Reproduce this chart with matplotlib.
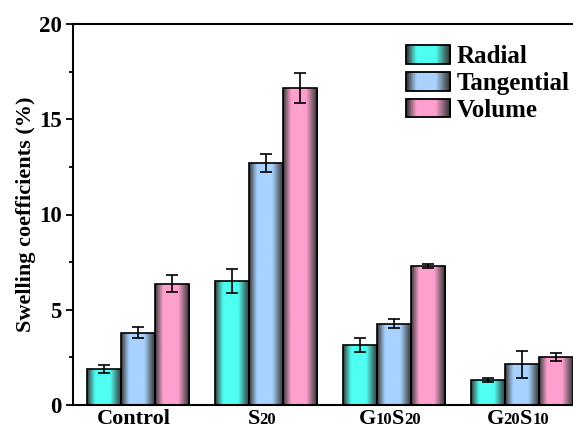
import numpy as np
import matplotlib
matplotlib.use("Agg")
import matplotlib.pyplot as plt
from matplotlib.patches import Rectangle
from matplotlib.legend_handler import HandlerBase
from matplotlib.offsetbox import TextArea, HPacker, AnnotationBbox
from matplotlib.ticker import MultipleLocator

# ---- data ----
groups = ["Control", "S20", "G10S20", "G20S10"]
group_parts = [[("Control", "big")],
               [("S", "big"), ("20", "small")],
               [("G", "big"), ("10", "small"), ("S", "big"), ("20", "small")],
               [("G", "big"), ("20", "small"), ("S", "big"), ("10", "small")]]
series = ["Radial", "Tangential", "Volume"]
radial = [1.90, 6.50, 3.15, 1.30]
tangential = [3.80, 12.72, 4.27, 2.14]
volume = [6.37, 16.63, 7.31, 2.52]
radial_err = [0.20, 0.64, 0.36, 0.10]
tangential_err = [0.30, 0.47, 0.24, 0.72]
volume_err = [0.46, 0.80, 0.10, 0.22]
colors = ["#4EFFF2", "#A8D2FF", "#FFA0CF"]
yticks = [0, 5, 10, 15, 20]

plt.rcParams["font.family"] = ["Liberation Serif", "DejaVu Serif"]
plt.rcParams["font.weight"] = "bold"

fig = plt.figure(figsize=(5.73, 4.32), dpi=100)
ax = fig.add_axes([73 / 573, 1 - 405 / 432, (587 - 73) / 573, (405 - 24) / 432])

dark = np.array([0.22, 0.22, 0.22])
N = 64
u = np.linspace(0, 1, N)
# brightness profile: dark edges, bright centre plateau
prof = np.clip(np.sin(np.pi * u ** 0.85) * 1.25, 0, 1) ** 1.3


def grad_img(color):
    c = np.array(matplotlib.colors.to_rgb(color))
    return (dark[None, :] * (1 - prof[:, None]) + c[None, :] * prof[:, None])[None, :, :]


x = np.arange(len(groups))
w = 0.266
vals = [radial, tangential, volume]
errs = [radial_err, tangential_err, volume_err]
for i, (v, e, col) in enumerate(zip(vals, errs, colors)):
    pos = x + (i - 1) * w
    bars = ax.bar(pos, v, width=w, color="none", edgecolor="black", linewidth=1.2, zorder=3)
    img = grad_img(col)
    for b in bars:
        x0, y0 = b.get_x(), b.get_y()
        im = ax.imshow(img, extent=[x0, x0 + b.get_width(), y0, y0 + b.get_height()],
                       aspect="auto", zorder=2, interpolation="bilinear")
        im.set_clip_path(b)
    ax.errorbar(pos, v, yerr=e, fmt="none", ecolor="black", elinewidth=1.2,
                capsize=4, capthick=1.2, zorder=4)

ax.set_xlim(-0.508, 3.508)
ax.set_ylim(0, 20)
ax.set_yticks(yticks)
ax.yaxis.set_minor_locator(MultipleLocator(2.5))
ax.set_xticks(x)
ax.set_xticklabels([""] * len(groups))
ax.tick_params(axis="x", length=0)
ax.tick_params(axis="y", which="major", length=5, width=1.3, labelsize=16.5, pad=3)
ax.tick_params(axis="y", which="minor", length=3, width=1.3)
for lab in ax.get_yticklabels():
    lab.set_fontweight("bold")
for s in ax.spines.values():
    s.set_linewidth(1.5)
ax.set_ylabel("Swelling coefficients (%)", fontsize=16, fontweight="bold", labelpad=2)

# x group labels with small numerals
for xi, parts in zip(x, group_parts):
    areas = []
    for txt, kind in parts:
        size = 16 if kind == "big" else 12
        areas.append(TextArea(txt, textprops=dict(fontsize=size, fontweight="bold",
                                                  family=["Liberation Serif"])))
    pack = HPacker(children=areas, align="baseline", pad=0, sep=0)
    ab = AnnotationBbox(pack, (xi, 0), xybox=(-3, -3), xycoords=("data", "axes fraction"),
                        boxcoords="offset points", box_alignment=(0.5, 1), frameon=False,
                        annotation_clip=False)
    ax.add_artist(ab)


class GradHandler(HandlerBase):
    def __init__(self, color):
        super().__init__()
        self.color = color

    def create_artists(self, legend, orig_handle, xdescent, ydescent, width, height, fontsize, trans):
        img = grad_img(self.color)[0]
        n = img.shape[0]
        arts = []
        for k in range(n):
            r = Rectangle((-xdescent + width * k / n, -ydescent), width / n * 1.05, height,
                          facecolor=img[k], edgecolor="none", transform=trans)
            arts.append(r)
        arts.append(Rectangle((-xdescent, -ydescent), width, height, facecolor="none",
                              edgecolor="black", linewidth=1.3, transform=trans))
        return arts


handles = [Rectangle((0, 0), 1, 1, facecolor=c) for c in colors]
leg = ax.legend(handles, series, loc="upper left", bbox_to_anchor=(0.605, 1.003),
                frameon=False, handlelength=1.76, handleheight=0.76, handletextpad=0.25,
                labelspacing=0.15, prop=dict(size=18, weight="bold"),
                handler_map={h: GradHandler(c) for h, c in zip(handles, colors)})

fig.savefig("out.png", dpi=100)
